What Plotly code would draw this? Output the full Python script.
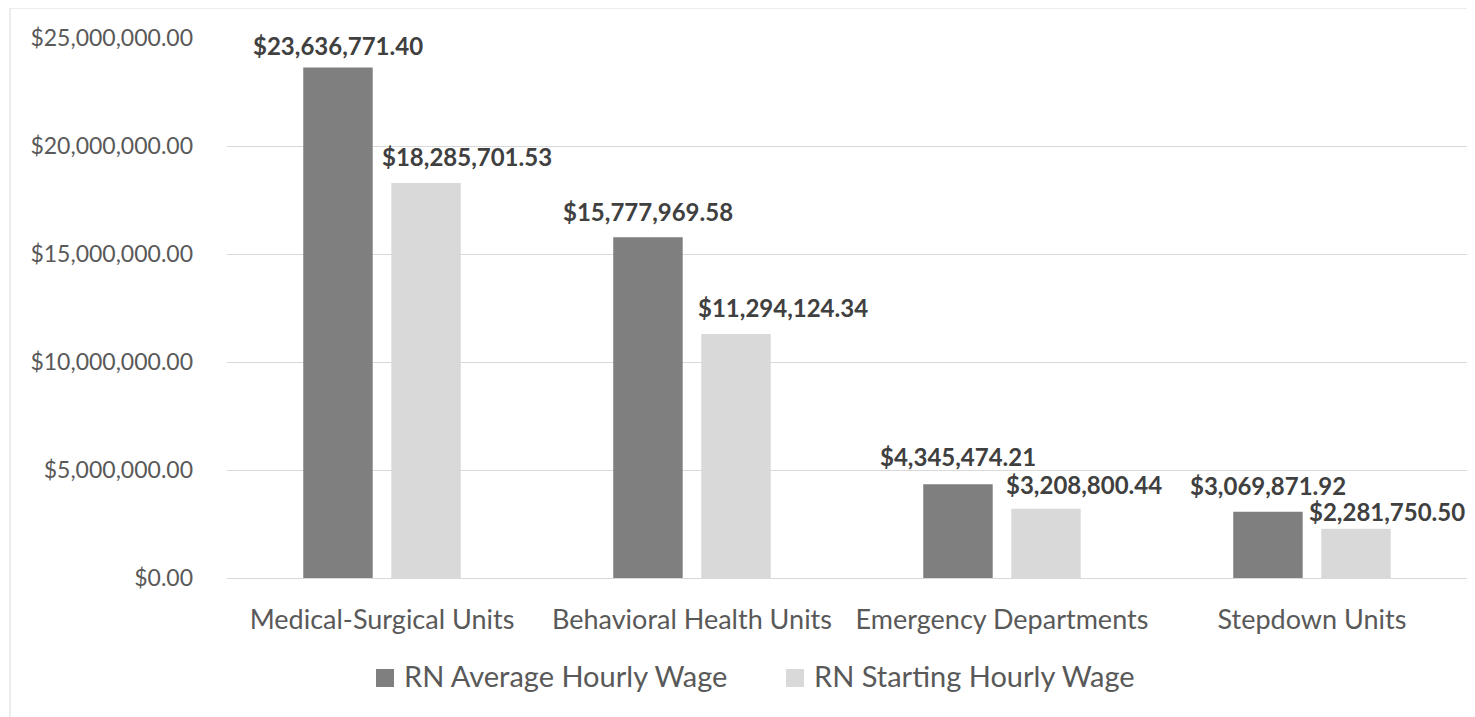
import plotly.graph_objects as go

categories = ["Medical-Surgical Units", "Behavioral Health Units", "Emergency Departments", "Stepdown Units"]
avg_wage = [23636771.40, 15777969.58, 4345474.21, 3069871.92]
start_wage = [18285701.53, 11294124.34, 3208800.44, 2281750.50]
series_names = ["RN Average Hourly Wage", "RN Starting Hourly Wage"]
y_ticks = [0, 5000000, 10000000, 15000000, 20000000, 25000000]

# label placement tweaks (pixels), mimicking manually moved labels
avg_label_dx = [0, 0, 0, 0]
avg_label_dy = [22, 26, 28, 26]
start_label_dx = [41, 47, 38, 31]
start_label_dy = [27, 27, 24, 17]

DARK = "#7f7f7f"
LIGHT = "#d9d9d9"
FONT = "Lato"
colors = [DARK, LIGHT]

# page body has an 8px default margin; work in screen pixels and convert
OFF = 8
W, H = 1475 - OFF, 717 - OFF
L, R, T, B = 227 - OFF, 16 - OFF, 38 - OFF, 139
pw = W - L - R
ph = H - T - B


def px(x):
    return (x - OFF - L) / pw


def py(y):
    return (ph - (y - OFF - T)) / ph


fig = go.Figure()
for name, vals, col in zip(series_names, [avg_wage, start_wage], colors):
    fig.add_trace(go.Bar(x=categories, y=vals, name=name, showlegend=False,
                         marker=dict(color=col, line=dict(width=0))))

slot = pw / len(categories)
bargap = 0.432
bar_off = slot * (1 - bargap) / 4

label_font = dict(family=FONT, size=24, color="#404040", weight="bold")
annotations = []
for i, c in enumerate(categories):
    annotations.append(dict(x=c, y=avg_wage[i], xref="x", yref="y",
                            text="${:,.2f}".format(avg_wage[i]), showarrow=False,
                            xshift=-bar_off + avg_label_dx[i], yshift=avg_label_dy[i],
                            yanchor="middle", xanchor="center", font=label_font))
    annotations.append(dict(x=c, y=start_wage[i], xref="x", yref="y",
                            text="${:,.2f}".format(start_wage[i]), showarrow=False,
                            xshift=bar_off + start_label_dx[i], yshift=start_label_dy[i],
                            yanchor="middle", xanchor="center", font=label_font))

# chart-area border (extends past the cropped right/bottom edges)
shapes = [dict(type="rect", xref="paper", yref="paper", x0=px(10), x1=px(1600),
               y0=py(900), y1=py(8),
               line=dict(color="#d9d9d9", width=1), fillcolor="rgba(0,0,0,0)", layer="below")]

# custom legend: 18px squares + text
legend_sq_x = [376, 786]
for name, col, sx in zip(series_names, colors, legend_sq_x):
    shapes.append(dict(type="rect", xref="paper", yref="paper",
                       x0=px(sx), x1=px(sx + 18), y0=py(687), y1=py(669),
                       line=dict(width=0), fillcolor=col))
    annotations.append(dict(x=px(sx + 26), y=py(675), xref="paper", yref="paper",
                            text=name, showarrow=False, xanchor="left", yanchor="middle",
                            font=dict(family=FONT, size=29, color="#595959")))

fig.update_layout(
    width=W, height=H,
    margin=dict(l=L, r=R, t=T, b=B, pad=0),
    paper_bgcolor="white", plot_bgcolor="white",
    barmode="group", bargap=bargap, bargroupgap=0.211,
    font=dict(family=FONT, color="#595959"),
    showlegend=False,
    annotations=annotations,
    shapes=shapes,
)
fig.update_xaxes(showgrid=False, showline=False, zeroline=False,
                 ticks="outside", ticklen=18, tickcolor="rgba(0,0,0,0)",
                 tickfont=dict(family=FONT, size=27, color="#595959"))
fig.update_yaxes(range=[0, 25000000], tickvals=y_ticks, tickformat="$,.2f",
                 showgrid=True, gridcolor="#d9d9d9", gridwidth=1,
                 zeroline=True, zerolinecolor="#d9d9d9", zerolinewidth=1,
                 showline=False, ticks="", ticklabelstandoff=33,
                 tickfont=dict(family=FONT, size=23, color="#595959"))

fig.write_html("out.html")
